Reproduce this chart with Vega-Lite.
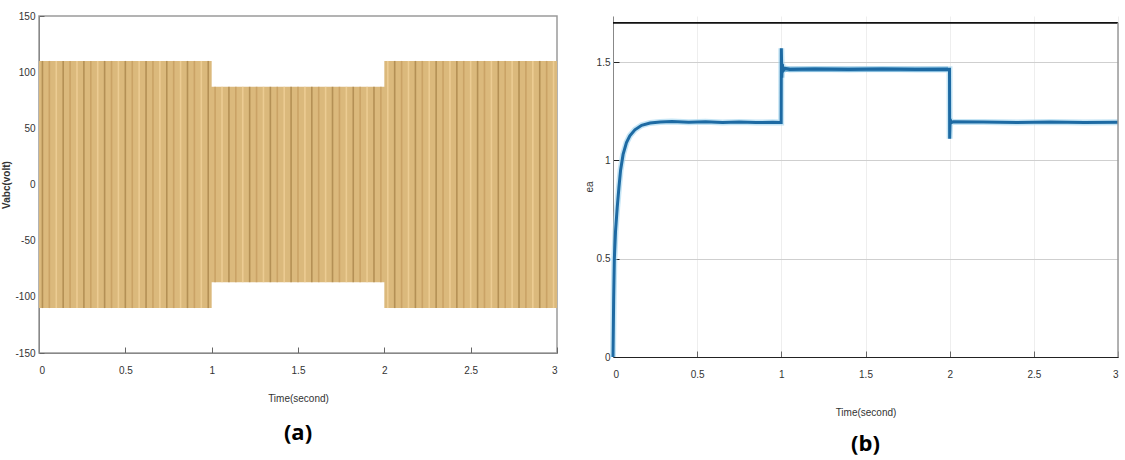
{
  "$schema": "https://vega.github.io/schema/vega-lite/v6.json",
  "background": "white",
  "padding": {"left": 1, "top": 10, "right": 2, "bottom": 2},
  "spacing": 25,
  "config": {
    "font": "Liberation Sans",
    "view": {"stroke": null},
    "axis": {"labelFont": "Liberation Sans", "labelFontSize": 10, "labelColor": "#333", "titleFont": "Liberation Sans", "titleFontSize": 10, "titleColor": "#333", "titleFontWeight": "normal", "domainColor": "#888", "tickColor": "#666"}
  },
  "datasets": {
    "env": [
      {"t": 0, "lo": -110, "hi": 110},
      {"t": 1, "lo": -87, "hi": 87},
      {"t": 2, "lo": -110, "hi": 110},
      {"t": 3, "lo": -110, "hi": 110}
    ],
    "stripes": [
      {"t":0.02,"p":"A","lo":-110,"hi":110},{"t":0.06,"p":"B","lo":-110,"hi":110},{"t":0.10,"p":"C","lo":-110,"hi":110},
      {"t":0.14,"p":"A","lo":-110,"hi":110},{"t":0.18,"p":"B","lo":-110,"hi":110},{"t":0.22,"p":"C","lo":-110,"hi":110},
      {"t":0.26,"p":"A","lo":-110,"hi":110},{"t":0.30,"p":"B","lo":-110,"hi":110},{"t":0.34,"p":"C","lo":-110,"hi":110},
      {"t":0.38,"p":"A","lo":-110,"hi":110},{"t":0.42,"p":"B","lo":-110,"hi":110},{"t":0.46,"p":"C","lo":-110,"hi":110},
      {"t":0.50,"p":"A","lo":-110,"hi":110},{"t":0.54,"p":"B","lo":-110,"hi":110},{"t":0.58,"p":"C","lo":-110,"hi":110},
      {"t":0.62,"p":"A","lo":-110,"hi":110},{"t":0.66,"p":"B","lo":-110,"hi":110},{"t":0.70,"p":"C","lo":-110,"hi":110},
      {"t":0.74,"p":"A","lo":-110,"hi":110},{"t":0.78,"p":"B","lo":-110,"hi":110},{"t":0.82,"p":"C","lo":-110,"hi":110},
      {"t":0.86,"p":"A","lo":-110,"hi":110},{"t":0.90,"p":"B","lo":-110,"hi":110},{"t":0.94,"p":"C","lo":-110,"hi":110},
      {"t":0.98,"p":"A","lo":-110,"hi":110},
      {"t":1.02,"p":"B","lo":-87,"hi":87},{"t":1.06,"p":"C","lo":-87,"hi":87},{"t":1.10,"p":"A","lo":-87,"hi":87},
      {"t":1.14,"p":"B","lo":-87,"hi":87},{"t":1.18,"p":"C","lo":-87,"hi":87},{"t":1.22,"p":"A","lo":-87,"hi":87},
      {"t":1.26,"p":"B","lo":-87,"hi":87},{"t":1.30,"p":"C","lo":-87,"hi":87},{"t":1.34,"p":"A","lo":-87,"hi":87},
      {"t":1.38,"p":"B","lo":-87,"hi":87},{"t":1.42,"p":"C","lo":-87,"hi":87},{"t":1.46,"p":"A","lo":-87,"hi":87},
      {"t":1.50,"p":"B","lo":-87,"hi":87},{"t":1.54,"p":"C","lo":-87,"hi":87},{"t":1.58,"p":"A","lo":-87,"hi":87},
      {"t":1.62,"p":"B","lo":-87,"hi":87},{"t":1.66,"p":"C","lo":-87,"hi":87},{"t":1.70,"p":"A","lo":-87,"hi":87},
      {"t":1.74,"p":"B","lo":-87,"hi":87},{"t":1.78,"p":"C","lo":-87,"hi":87},{"t":1.82,"p":"A","lo":-87,"hi":87},
      {"t":1.86,"p":"B","lo":-87,"hi":87},{"t":1.90,"p":"C","lo":-87,"hi":87},{"t":1.94,"p":"A","lo":-87,"hi":87},
      {"t":1.98,"p":"B","lo":-87,"hi":87},
      {"t":2.02,"p":"C","lo":-110,"hi":110},{"t":2.06,"p":"A","lo":-110,"hi":110},{"t":2.10,"p":"B","lo":-110,"hi":110},
      {"t":2.14,"p":"C","lo":-110,"hi":110},{"t":2.18,"p":"A","lo":-110,"hi":110},{"t":2.22,"p":"B","lo":-110,"hi":110},
      {"t":2.26,"p":"C","lo":-110,"hi":110},{"t":2.30,"p":"A","lo":-110,"hi":110},{"t":2.34,"p":"B","lo":-110,"hi":110},
      {"t":2.38,"p":"C","lo":-110,"hi":110},{"t":2.42,"p":"A","lo":-110,"hi":110},{"t":2.46,"p":"B","lo":-110,"hi":110},
      {"t":2.50,"p":"C","lo":-110,"hi":110},{"t":2.54,"p":"A","lo":-110,"hi":110},{"t":2.58,"p":"B","lo":-110,"hi":110},
      {"t":2.62,"p":"C","lo":-110,"hi":110},{"t":2.66,"p":"A","lo":-110,"hi":110},{"t":2.70,"p":"B","lo":-110,"hi":110},
      {"t":2.74,"p":"C","lo":-110,"hi":110},{"t":2.78,"p":"A","lo":-110,"hi":110},{"t":2.82,"p":"B","lo":-110,"hi":110},
      {"t":2.86,"p":"C","lo":-110,"hi":110},{"t":2.90,"p":"A","lo":-110,"hi":110},{"t":2.94,"p":"B","lo":-110,"hi":110},
      {"t":2.98,"p":"C","lo":-110,"hi":110}
    ],
    "ea": [
      {"t":0,"v":0},{"t":0.004,"v":0.3},{"t":0.008,"v":0.5},{"t":0.015,"v":0.64},{"t":0.025,"v":0.76},
      {"t":0.035,"v":0.86},{"t":0.045,"v":0.95},{"t":0.06,"v":1.03},{"t":0.08,"v":1.09},{"t":0.1,"v":1.125},
      {"t":0.13,"v":1.155},{"t":0.17,"v":1.178},{"t":0.22,"v":1.19},{"t":0.28,"v":1.195},{"t":0.35,"v":1.197},
      {"t":0.45,"v":1.194},{"t":0.55,"v":1.196},{"t":0.65,"v":1.193},{"t":0.75,"v":1.195},{"t":0.85,"v":1.192},
      {"t":0.95,"v":1.194},{"t":0.999,"v":1.193},{"t":1.0,"v":1.57},{"t":1.003,"v":1.42},{"t":1.006,"v":1.49},
      {"t":1.01,"v":1.455},{"t":1.02,"v":1.468},{"t":1.05,"v":1.462},{"t":1.2,"v":1.465},{"t":1.4,"v":1.462},
      {"t":1.6,"v":1.464},{"t":1.8,"v":1.462},{"t":1.999,"v":1.463},{"t":2.0,"v":1.11},{"t":2.003,"v":1.21},
      {"t":2.008,"v":1.19},{"t":2.02,"v":1.196},{"t":2.2,"v":1.195},{"t":2.4,"v":1.193},{"t":2.6,"v":1.195},
      {"t":2.8,"v":1.193},{"t":3.0,"v":1.194}
    ],
    "band": [
      {"t":1.01,"lo":1.45,"hi":1.476},{"t":1.99,"lo":1.45,"hi":1.476}
    ]
  },
  "hconcat": [
    {
      "width": 518,
      "height": 337,
      "view": {"stroke": "#9a9a9a", "strokeWidth": 1.5},
      "title": {"text": "(a)", "orient": "bottom", "anchor": "middle", "font": "Open Sans", "fontSize": 22, "fontWeight": "bold", "color": "black", "offset": 20},
      "layer": [
        {
          "data": {"name": "env"},
          "mark": {"type": "area", "color": "#dbb97c", "interpolate": "step-after"},
          "encoding": {
            "x": {"field": "t", "type": "quantitative", "scale": {"domain": [0, 3], "nice": false},
              "axis": {"values": [0, 0.5, 1, 1.5, 2, 2.5, 3], "labelExpr": "toString(datum.value)", "title": "Time(second)", "titlePadding": 18, "tickSize": -6, "labelPadding": 18, "grid": false}},
            "y": {"field": "lo", "type": "quantitative", "scale": {"domain": [-150, 150], "nice": false},
              "axis": {"values": [-150, -100, -50, 0, 50, 100, 150], "labelExpr": "toString(datum.value)", "title": "Vabc(volt)", "titleFontWeight": "bold", "titlePadding": 3, "tickSize": -5, "labelPadding": 9, "grid": false}},
            "y2": {"field": "hi"}
          }
        },
        {
          "data": {"name": "stripes"},
          "mark": {"type": "rule", "strokeWidth": 1.6, "opacity": 0.7},
          "encoding": {
            "x": {"field": "t", "type": "quantitative"},
            "y": {"field": "lo", "type": "quantitative"},
            "y2": {"field": "hi"},
            "color": {"field": "p", "type": "nominal", "scale": {"domain": ["A", "B", "C"], "range": ["#a47f45", "#c39a5c", "#f3d49c"]}, "legend": null}
          }
        }
      ]
    },
    {
      "width": 505,
      "height": 341,
      "title": {"text": "(b)", "orient": "bottom", "anchor": "middle", "font": "Open Sans", "fontSize": 22, "fontWeight": "bold", "color": "black", "offset": 17},
      "layer": [
        {
          "data": {"name": "band"},
          "mark": {"type": "area", "color": "#2a77b0"},
          "encoding": {
            "x": {"field": "t", "type": "quantitative", "scale": {"domain": [0, 3], "nice": false},
              "axis": {"values": [0, 0.5, 1, 1.5, 2, 2.5, 3], "labelExpr": "toString(datum.value)", "title": "Time(second)", "titlePadding": 28, "tickSize": -6, "labelPadding": 18, "domainColor": "#222", "grid": true, "gridColor": "#eeeeee"}},
            "y": {"field": "lo", "type": "quantitative", "scale": {"domain": [0, 1.734], "nice": false},
              "axis": {"values": [0, 0.5, 1, 1.5], "labelExpr": "toString(datum.value)", "title": "ea", "titlePadding": 2, "tickSize": -6, "labelPadding": 9, "tickColor": "#222", "grid": true, "gridColor": "#cfcfcf"}},
            "y2": {"field": "hi"}
          }
        },
        {
          "data": {"name": "ea"},
          "mark": {"type": "line", "color": "#9fd4ef", "strokeWidth": 6, "opacity": 0.6},
          "encoding": {
            "x": {"field": "t", "type": "quantitative"},
            "y": {"field": "v", "type": "quantitative"}
          }
        },
        {
          "data": {"name": "ea"},
          "mark": {"type": "line", "color": "#1d6aa3", "strokeWidth": 3},
          "encoding": {
            "x": {"field": "t", "type": "quantitative"},
            "y": {"field": "v", "type": "quantitative"}
          }
        },
        {
          "data": {"name": "band"},
          "mark": {"type": "rule", "color": "#111", "strokeWidth": 1.5},
          "encoding": {"y": {"datum": 1.7}}
        },
        {
          "data": {"name": "band"},
          "mark": {"type": "rule", "color": "#999", "strokeWidth": 1},
          "encoding": {"x": {"datum": 3}, "y": {"datum": 0}, "y2": {"datum": 1.7}}
        }
      ]
    }
  ]
}
